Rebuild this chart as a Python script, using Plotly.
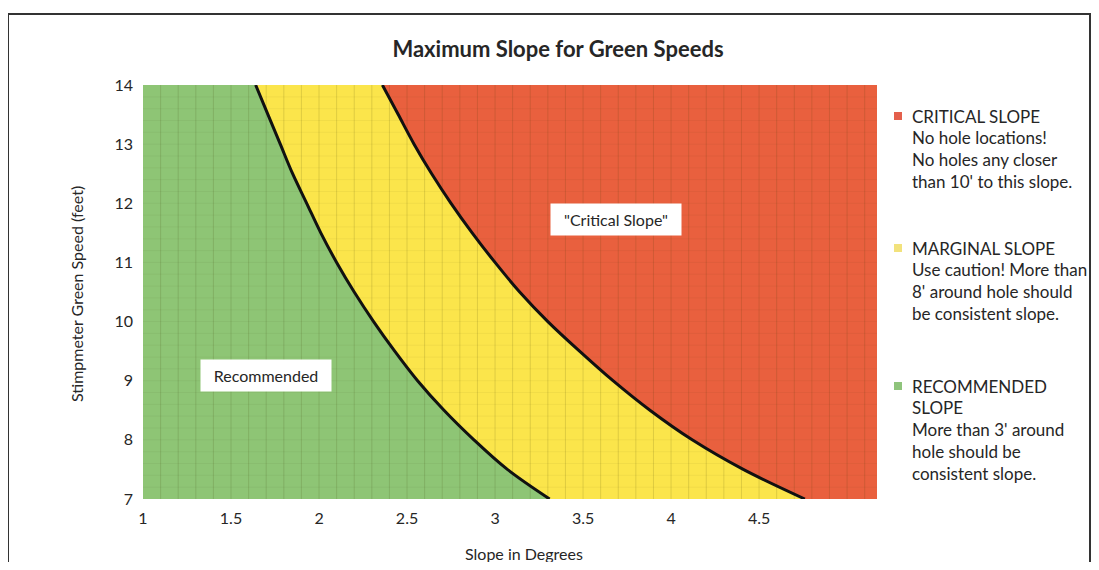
import numpy as np
import plotly.graph_objects as go

# ---- data ----
speed = [7, 7.5, 8, 8.5, 9, 9.5, 10, 10.5, 11, 11.5, 12, 12.5, 13, 13.5, 14]   # Stimpmeter (feet)
recommended_max = [3.31, 3.07, 2.88, 2.71, 2.56, 2.43, 2.31, 2.20, 2.10, 2.01, 1.93, 1.85, 1.78, 1.71, 1.64]
marginal_max = [4.76, 4.41, 4.12, 3.88, 3.67, 3.48, 3.30, 3.14, 3.00, 2.87, 2.75, 2.64, 2.54, 2.45, 2.36]
x_ticks = [1, 1.5, 2, 2.5, 3, 3.5, 4, 4.5]
x_tick_text = ["1", "1.5", "2", "2.5", "3", "3.5", "4", "4.5"]
y_ticks = [7, 8, 9, 10, 11, 12, 13, 14]
x_range = [1, 5.17]
y_range = [7, 14]

legend_items = [
    ("#e4604c", ["CRITICAL SLOPE", "No hole locations!", "No holes any closer", "than 10' to this slope."]),
    ("#f2e27c", ["MARGINAL SLOPE", "Use caution! More than", "8' around hole should", "be consistent slope."]),
    ("#8fc47c", ["RECOMMENDED", "SLOPE", "More than 3' around", "hole should be", "consistent slope."]),
]

GREEN = "#8ec575"
YELLOW = "#fbe54b"
RED = "#e9603e"
FONT = "Lato"
TXT = "#262626"

# page body has an 8px margin; work in screen pixels and convert
OFF = 8
W, H = 1099 - 2 * OFF, 570 - 2 * OFF
L, R, T, B = 143 - OFF, 877 - OFF, 85 - OFF, 499 - OFF


def px(x):
    return (x - OFF - L) / (R - L)


def py(y):
    return (B - (y - OFF)) / (B - T)


fig = go.Figure()

fig.add_trace(go.Scatter(x=marginal_max, y=speed, mode="lines", fill="tozerox",
                         fillcolor=YELLOW, line=dict(width=0, shape="spline", color=YELLOW),
                         hoverinfo="skip", showlegend=False))
fig.add_trace(go.Scatter(x=recommended_max, y=speed, mode="lines", fill="tozerox",
                         fillcolor=GREEN, line=dict(width=0, shape="spline", color=GREEN),
                         hoverinfo="skip", showlegend=False))

gx, gy = [], []
for v in np.arange(1.1, x_range[1], 0.1):
    gx += [v, v, None]
    gy += [y_range[0], y_range[1], None]
fig.add_trace(go.Scatter(x=gx, y=gy, mode="lines", line=dict(color="rgba(60,60,0,0.15)", width=1),
                         hoverinfo="skip", showlegend=False))
hx, hy = [], []
for v in np.arange(7.2, 14, 0.2):
    hx += [x_range[0], x_range[1], None]
    hy += [v, v, None]
fig.add_trace(go.Scatter(x=hx, y=hy, mode="lines", line=dict(color="rgba(60,60,0,0.05)", width=1),
                         hoverinfo="skip", showlegend=False))

for xs in (recommended_max, marginal_max):
    fig.add_trace(go.Scatter(x=xs, y=speed, mode="lines",
                             line=dict(color="#111111", width=3, shape="spline"),
                             hoverinfo="skip", showlegend=False))

annotations = [
    dict(x=1.70, y=9.08, xref="x", yref="y", text="Recommended", showarrow=False,
         bgcolor="white", width=128, height=29, font=dict(family=FONT, size=16, color=TXT)),
    dict(x=3.69, y=11.72, xref="x", yref="y", text="\"Critical Slope\"", showarrow=False,
         bgcolor="white", width=128, height=29, font=dict(family=FONT, size=16, color=TXT)),
    # axis titles
    dict(x=px(524), y=py(553), xref="paper", yref="paper", text="Slope in Degrees",
         showarrow=False, xanchor="center", yanchor="middle",
         font=dict(family=FONT, size=16, color=TXT)),
    dict(x=px(76), y=py(294), xref="paper", yref="paper", text="Stimpmeter Green Speed (feet)",
         showarrow=False, xanchor="center", yanchor="middle", textangle=-90,
         font=dict(family=FONT, size=16, color=TXT)),
]
shapes = []

block_tops = [116, 248, 386]
line_gap = 21.8
for (col, lines), top in zip(legend_items, block_tops):
    shapes.append(dict(type="rect", xref="paper", yref="paper",
                       x0=px(894), x1=px(902), y0=py(top + 4), y1=py(top - 4),
                       fillcolor=col, line=dict(width=0)))
    for i, t in enumerate(lines):
        annotations.append(dict(x=px(910), y=py(top + i * line_gap), xref="paper", yref="paper",
                                xanchor="left", yanchor="middle", text=t, showarrow=False,
                                font=dict(family=FONT, size=17, color=TXT)))

shapes.append(dict(type="rect", xref="paper", yref="paper",
                   x0=px(8), x1=px(1090), y0=py(640), y1=py(14),
                   line=dict(color="#333333", width=2), fillcolor="rgba(0,0,0,0)", layer="below"))

fig.update_layout(
    width=W, height=H,
    margin=dict(l=L, r=W - R, t=T, b=H - B, autoexpand=False),
    paper_bgcolor="white",
    plot_bgcolor=RED,
    title=dict(text="<b>Maximum Slope for Green Speeds</b>", xref="paper", x=px(558),
               xanchor="center", yref="container", y=1 - (49 - OFF) / H, yanchor="middle",
               font=dict(family=FONT, size=22, color=TXT)),
    xaxis=dict(range=x_range, tickvals=x_ticks, ticktext=x_tick_text, showgrid=False,
               zeroline=False, showline=False, ticks="", ticklabelstandoff=8, automargin=False,
               tickfont=dict(family=FONT, size=16, color=TXT)),
    yaxis=dict(range=y_range, tickvals=y_ticks, showgrid=False, zeroline=False,
               showline=False, ticks="", ticklabelstandoff=9, automargin=False,
               tickfont=dict(family=FONT, size=16, color=TXT)),
    annotations=annotations,
    shapes=shapes,
    showlegend=False,
)

fig.write_html("out.html")
